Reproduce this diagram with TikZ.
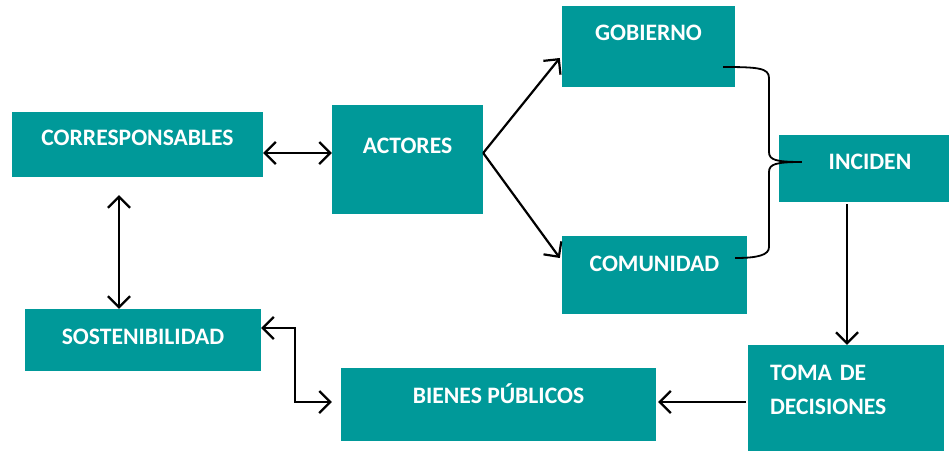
\documentclass[tikz,border=0pt]{standalone}
\usepackage{fontspec}
\setmainfont{Carlito}
\usetikzlibrary{arrows.meta, calc}
\definecolor{verde}{RGB}{0,153,153}

\begin{document}
\begin{tikzpicture}[x=1pt, y=-1pt,
	caja/.style={fill=verde, text=white, inner sep=0pt,
		font=\bfseries\fontsize{23.6}{34}\selectfont, text height=15pt},
	flecha/.style={line width=2.2pt, -{Straight Barb[length=11pt, width=22pt]}},
	doble/.style={line width=2.2pt, {Straight Barb[length=11pt, width=22pt]}-{Straight Barb[length=11pt, width=22pt]}}]
	\useasboundingbox (0,0) rectangle (952,452);

	% cajas
	\node[caja, minimum width=251pt, minimum height=65pt, text depth=13pt] (corr) at (137.5,144.5) {CORRESPONSABLES};
	\node[caja, minimum width=151pt, minimum height=109pt, text depth=27pt] (act) at (407.5,159.5) {ACTORES};
	\node[caja, minimum width=173pt, minimum height=81pt, text depth=27pt] (gob) at (648.5,46.5) {GOBIERNO};
	\node[caja, minimum width=185pt, minimum height=78pt, text depth=22pt] (com) at (654.5,275) {COMUNIDAD};
	\node[caja, minimum width=170pt, minimum height=67pt, text depth=13pt] (inc) at (864,168.5) {\hspace*{12pt}INCIDEN};
	\node[caja, minimum width=236pt, minimum height=62pt, text depth=6pt] (sost) at (143,340) {SOSTENIBILIDAD};
	\node[caja, minimum width=315pt, minimum height=73pt, text depth=17pt] (bien) at (498.5,404.5) {BIENES PÚBLICOS};
	\node[caja, minimum width=196pt, minimum height=106pt, text width=152pt, align=left, text depth=50pt] (toma) at (846,398) {TOMA DE\\DECISIONES};

	% flechas
	\draw[doble] ([yshift=-8.5pt]corr.east) -- ([yshift=6.5pt]act.west);
	\draw[flecha] ([yshift=6.5pt]act.east) -- ([xshift=-2pt, yshift=-11.5pt]gob.west);
	\draw[flecha] ([yshift=6.5pt]act.east) -- ([xshift=-2pt, yshift=17pt]com.west);
	\draw[doble] ([xshift=-18.5pt, yshift=-18pt]corr.south) -- ([xshift=-24pt]sost.north);
	\draw[doble] ([yshift=12pt]sost.east) -- ++(34,0) |- ([xshift=-9pt, yshift=2.5pt]bien.west);
	\draw[flecha] ([xshift=-17pt, yshift=-2pt]inc.south) -- ([xshift=1pt]toma.north);
	\draw[flecha] ([xshift=-2pt, yshift=-4pt]toma.west) -- ([xshift=2pt, yshift=2.5pt]bien.east);

	% llave
	\draw[line width=1.8pt] ([xshift=-12pt, yshift=-20.5pt]gob.east)
		.. controls (758,67) and (769,68) .. (769,78) -- (769,152)
		.. controls (769,160) and (776,162) .. ([xshift=23pt, yshift=6.5pt]inc.west)
		.. controls (776,162) and (769,164) .. (769,172) -- (769,247)
		.. controls (769,255) and (758,258) .. ([xshift=-12pt, yshift=17pt]com.east);
\end{tikzpicture}
\end{document}
